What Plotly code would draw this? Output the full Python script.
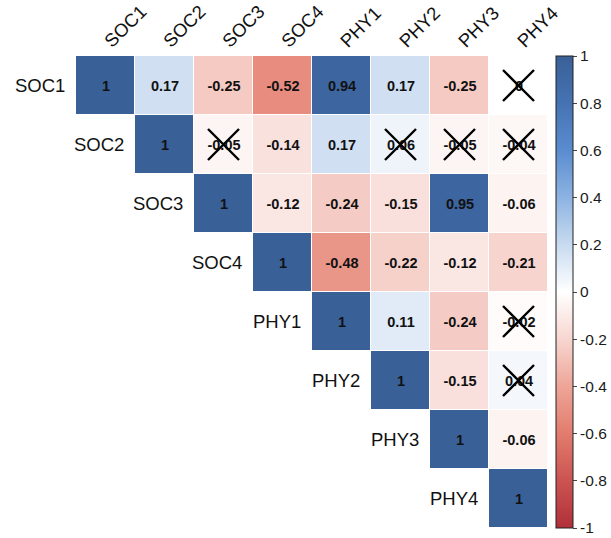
import numpy as np
import plotly.graph_objects as go

# Variables (same order on both axes)
variables = ["SOC1", "SOC2", "SOC3", "SOC4", "PHY1", "PHY2", "PHY3", "PHY4"]

# Upper triangle of the correlation matrix, one list per row (starting at the diagonal)
row_soc1 = [1, 0.17, -0.25, -0.52, 0.94, 0.17, -0.25, 0]
row_soc2 = [1, -0.05, -0.14, 0.17, 0.06, -0.05, -0.04]
row_soc3 = [1, -0.12, -0.24, -0.15, 0.95, -0.06]
row_soc4 = [1, -0.48, -0.22, -0.12, -0.21]
row_phy1 = [1, 0.11, -0.24, -0.02]
row_phy2 = [1, -0.15, 0.04]
row_phy3 = [1, -0.06]
row_phy4 = [1]
upper_rows = [row_soc1, row_soc2, row_soc3, row_soc4,
              row_phy1, row_phy2, row_phy3, row_phy4]

# Non-significant pairs (row variable, column variable), crossed out
insignificant = [("SOC1", "PHY4"), ("SOC2", "SOC3"), ("SOC2", "PHY2"),
                 ("SOC2", "PHY3"), ("SOC2", "PHY4"), ("PHY1", "PHY4"),
                 ("PHY2", "PHY4")]

# Colorbar ticks
cbar_ticks = [1, 0.8, 0.6, 0.4, 0.2, 0, -0.2, -0.4, -0.6, -0.8, -1]

n = len(variables)
z = np.full((n, n), np.nan)
text = [["" for _ in range(n)] for _ in range(n)]
for i, row in enumerate(upper_rows):
    for k, v in enumerate(row):
        j = i + k
        z[i, j] = v
        text[i][j] = f"{v:g}"

colorscale = [
    [0.0, "#B0303A"], [0.1, "#CB5351"], [0.2, "#E27C6E"], [0.3, "#EEA598"],
    [0.4, "#F7D6D0"], [0.5, "#FFFFFF"], [0.6, "#C8DBF0"], [0.7, "#8DB3E2"],
    [0.8, "#5A8CD0"], [0.9, "#4573B2"], [1.0, "#3A6098"],
]

font_family = "Liberation Sans, Arial, sans-serif"

fig = go.Figure()
fig.add_trace(go.Heatmap(
    z=z, x=list(range(n)), y=list(range(n)),
    text=text, texttemplate="<b>%{text}</b>",
    textfont=dict(family=font_family, size=14.5, color="#111111"),
    colorscale=colorscale, zmin=-1, zmax=1,
    xgap=1, ygap=1, hoverongaps=False,
    colorbar=dict(
        x=1.017, xanchor="left", xref="paper", xpad=0, ypad=0,
        y=0.5, yanchor="middle", len=1.0, lenmode="fraction",
        thickness=17, outlinewidth=1, outlinecolor="#222222",
        tickvals=cbar_ticks, ticktext=[f"{t:g}" for t in cbar_ticks],
        ticks="outside", ticklen=4, tickwidth=1, tickcolor="#444444",
        tickfont=dict(family=font_family, size=15.5, color="#1a1a1a"),
    ),
))

# Crosses over non-significant coefficients
idx = {v: i for i, v in enumerate(variables)}
fig.add_trace(go.Scatter(
    x=[idx[c] for _, c in insignificant],
    y=[idx[r] for r, _ in insignificant],
    mode="markers", hoverinfo="skip", showlegend=False,
    marker=dict(symbol="x-thin", size=31,
                line=dict(width=2.4, color="#000000")),
))

# Row labels sit just left of each diagonal cell
for i, name in enumerate(variables):
    fig.add_annotation(
        x=i - 0.5, y=i, xref="x", yref="y", text=name, showarrow=False,
        xanchor="right", yanchor="middle", xshift=-9,
        font=dict(family=font_family, size=18.5, color="#111111"),
    )

fig.update_xaxes(
    range=[-0.5, n - 0.5], side="top", tickmode="array",
    tickvals=list(range(n)), ticktext=variables, tickangle=-45,
    ticks="", showgrid=False, zeroline=False, showline=False,
    tickfont=dict(family=font_family, size=18.5, color="#111111"),
    automargin=False,
)
fig.update_yaxes(
    range=[n - 0.5, -0.5], showticklabels=False, ticks="",
    showgrid=False, zeroline=False, showline=False,
)
fig.update_layout(
    width=611, height=538,
    margin=dict(l=76, r=63, t=56, b=10, autoexpand=False),
    paper_bgcolor="white", plot_bgcolor="white",
)

fig.write_html("out.html")
